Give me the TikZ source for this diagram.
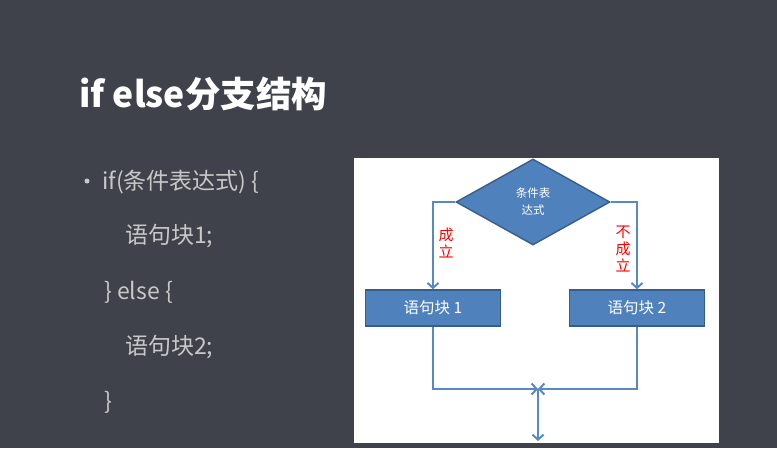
\documentclass[tikz,border=0pt]{standalone}
\usepackage{fontspec}
\setmainfont{Noto Sans CJK SC}
\newfontfamily\cjk{Noto Sans CJK SC}
\usetikzlibrary{shapes.geometric,arrows.meta}
\definecolor{bg}{RGB}{63,66,75}
\definecolor{txt}{RGB}{200,200,200}
\definecolor{boxfill}{RGB}{79,129,189}
\definecolor{boxline}{RGB}{56,93,138}
\definecolor{flowline}{RGB}{88,137,194}
\begin{document}
\begin{tikzpicture}[x=1pt,y=-1pt,
  blockbox/.style={draw=boxline,line width=1.4pt,fill=boxfill,minimum width=135pt,minimum height=36pt,inner sep=0pt,text=white,font=\cjk\fontsize{15.5}{17}\selectfont},
  decide/.style={diamond,draw=boxline,line width=1.4pt,fill=boxfill,minimum width=154pt,minimum height=86pt,inner sep=0pt,text=white,align=center,font=\cjk\fontsize{11.5}{17}\selectfont},
  flow/.style={draw=flowline,line width=2.6pt,-{Straight Barb[length=5pt,width=11pt,line width=2pt]}},
  code/.style={anchor=west,inner sep=0pt,text=txt,font=\cjk\fontsize{23}{26}\selectfont},
  redlbl/.style={inner sep=0pt,text=red,align=center,font=\cjk\fontsize{15}{17}\selectfont}
]
\fill[bg] (0,0) rectangle (777,448);
\useasboundingbox (0,0) rectangle (777,448);
\node[anchor=base west,inner sep=0pt,text=white,font=\cjk\bfseries\fontsize{35.5}{40}\selectfont] (title) at (79,107) {if else分支结构};
\node[circle,fill=txt,inner sep=0pt,minimum size=5pt] (bullet) at (87,181) {};
\node[code] (l1) at (102,182) {if(条件表达式) \{};
\node[code] (l2) at (125,236) {语句块1;};
\node[code] (l3) at (104,292) {\} else \{};
\node[code] (l4) at (125,347) {语句块2;};
\node[code] (l5) at (104,402) {\}};
\fill[white] (354,158) rectangle (719,443);
\node[decide] (d) at (533,202) {条件表\\达式};
\node[blockbox] (b1) at (433,308) {语句块 1};
\node[blockbox] (b2) at (637,308) {语句块 2};
\coordinate (m) at (538,389);
\coordinate (e) at (538,441);
\draw[flow] (d.west) -| (b1.north);
\draw[flow] (d.east) -| (b2.north);
\draw[flow] (b1.south) |- (m);
\draw[flow] (b2.south) |- (m);
\draw[flow] (m) -- (e);
\node[redlbl] (yes) at (446,243) {成\\立};
\node[redlbl] (no) at (623,249) {不\\成\\立};
\end{tikzpicture}
\end{document}
